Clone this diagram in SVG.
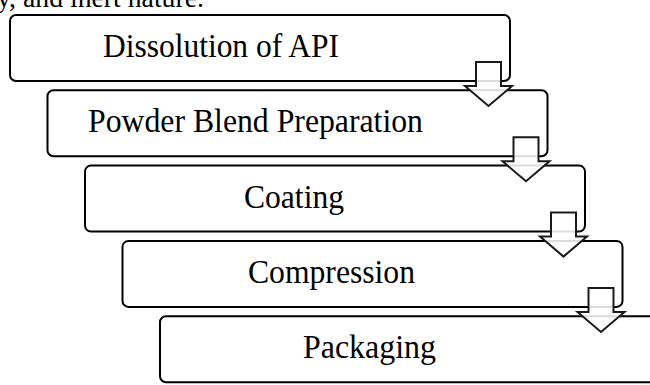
<svg xmlns="http://www.w3.org/2000/svg" width="650" height="385" viewBox="0 0 650 385">
  <style>
    .box { fill: #ffffff; stroke: #000000; stroke-width: 2; }
    .lbl { font-family: "Liberation Serif", "Times New Roman", serif; font-size: 33px; fill: #000000; text-anchor: middle; }
    .body { font-family: "Liberation Serif", "Times New Roman", serif; font-size: 28px; fill: #000000; }
    .arrow { fill: #ffffff; fill-opacity: 0.86; stroke: #1a1a1a; stroke-width: 2; stroke-linejoin: miter; }
  </style>
  <defs>
    <polygon id="downArrow" class="arrow" points="476,62 501,62 501,86 512,86 488.5,106 465,86 476,86"/>
  </defs>
  <rect width="650" height="385" fill="#ffffff"/>
  <text class="body" x="-3" y="6.5" textLength="207" lengthAdjust="spacingAndGlyphs">y, and inert nature.</text>

  <g id="node-dissolution">
    <rect class="box" x="10" y="15" width="500" height="66" rx="6" ry="6"/>
    <text class="lbl" x="221" y="57" textLength="236" lengthAdjust="spacingAndGlyphs">Dissolution of API</text>
  </g>
  <g id="node-powder-blend">
    <rect class="box" x="47.5" y="90.3" width="500" height="66" rx="6" ry="6"/>
    <text class="lbl" x="255.5" y="132.3" textLength="335" lengthAdjust="spacingAndGlyphs">Powder Blend Preparation</text>
  </g>
  <g id="node-coating">
    <rect class="box" x="85" y="165.6" width="500" height="66" rx="6" ry="6"/>
    <text class="lbl" x="294" y="207.6" textLength="100" lengthAdjust="spacingAndGlyphs">Coating</text>
  </g>
  <g id="node-compression">
    <rect class="box" x="122.5" y="240.9" width="500" height="66" rx="6" ry="6"/>
    <text class="lbl" x="331.5" y="282.9" textLength="167" lengthAdjust="spacingAndGlyphs">Compression</text>
  </g>
  <g id="node-packaging">
    <rect class="box" x="160" y="316.2" width="500" height="66" rx="6" ry="6"/>
    <text class="lbl" x="369.5" y="358.2" textLength="133" lengthAdjust="spacingAndGlyphs">Packaging</text>
  </g>

  <g id="connectors">
    <use href="#downArrow"/>
    <use href="#downArrow" transform="translate(37.5,75.3)"/>
    <use href="#downArrow" transform="translate(75,150.6)"/>
    <use href="#downArrow" transform="translate(112.5,225.9)"/>
  </g>
</svg>
